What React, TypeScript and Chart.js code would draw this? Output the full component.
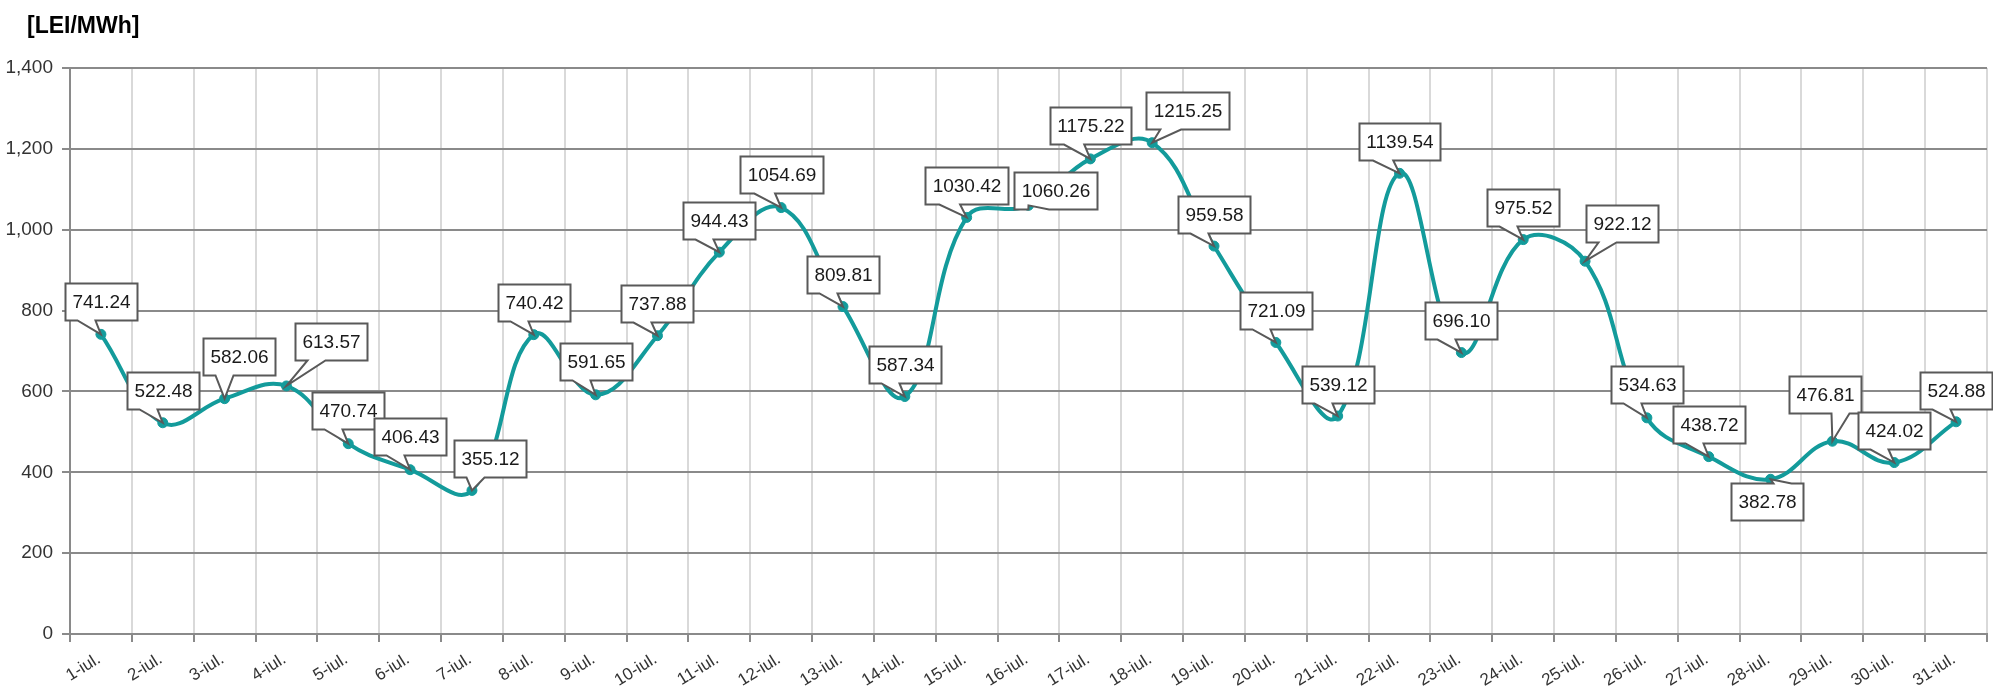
import React, { useEffect, useRef } from 'react';
import { Chart, registerables } from 'chart.js';

Chart.register(...registerables);

const categories = [
  '1-iul.', '2-iul.', '3-iul.', '4-iul.', '5-iul.', '6-iul.', '7-iul.', '8-iul.', '9-iul.', '10-iul.',
  '11-iul.', '12-iul.', '13-iul.', '14-iul.', '15-iul.', '16-iul.', '17-iul.', '18-iul.', '19-iul.', '20-iul.',
  '21-iul.', '22-iul.', '23-iul.', '24-iul.', '25-iul.', '26-iul.', '27-iul.', '28-iul.', '29-iul.', '30-iul.',
  '31-iul.',
];

const prices = [
  741.24, 522.48, 582.06, 613.57, 470.74, 406.43, 355.12, 740.42, 591.65, 737.88,
  944.43, 1054.69, 809.81, 587.34, 1030.42, 1060.26, 1175.22, 1215.25, 959.58, 721.09,
  539.12, 1139.54, 696.1, 975.52, 922.12, 534.63, 438.72, 382.78, 476.81, 424.02,
  524.88,
];

const unitTitle = '[LEI/MWh]';
const yMin = 0;
const yMax = 1400;
const yStep = 200;

// callout box centre offsets relative to each point (label placement)
const labelDx = [0, 0, 14, 45, 0, 0, 18, 0, 0, 0, 0, 0, 0, 0, 0, 27, 0, 35, 0, 0, 0, 0, 0, 0, 37, 0, 0, -4, -7, 0, 0];
const labelDy = [-33, -32, -42, -44, -33, -33, -32, -32, -33, -32, -32, -33, -32, -32, -32, -15, -33, -32, -32, -32, -32, -32, -32, -32, -38, -33, -32, 22, -47, -32, -31];

const TEAL = '#139b9b';
const DARK_GRID = '#8a8a8a';
const LIGHT_GRID = '#d9d9d9';
const FONT = '"Liberation Sans", Arial, sans-serif';

function calloutPath(ctx: CanvasRenderingContext2D, l: number, t: number, w: number, h: number, px: number, py: number) {
  const r = l + w;
  const b = t + h;
  const hc = l + w / 2;
  const vc = t + h / 2;
  const dxPos = px - hc;
  const dyPos = py - vc;
  const dq = Math.abs(dxPos * h) - Math.abs(dyPos * w);
  const x1 = l + (w * (dxPos > 0 ? 7 : 2)) / 12;
  const x2 = l + (w * (dxPos > 0 ? 10 : 5)) / 12;
  const y1 = t + (h * (dyPos > 0 ? 7 : 2)) / 12;
  const y2 = t + (h * (dyPos > 0 ? 10 : 5)) / 12;
  const xl = dq > 0 ? (dxPos > 0 ? l : px) : l;
  const yl = dq > 0 ? (dxPos > 0 ? y1 : py) : y1;
  const xt = dq > 0 ? x1 : dyPos > 0 ? x1 : px;
  const yt = dq > 0 ? t : dyPos > 0 ? t : py;
  const xr = dq > 0 ? (dxPos > 0 ? px : r) : r;
  const yr = dq > 0 ? (dxPos > 0 ? py : y1) : y1;
  const xb = dq > 0 ? x1 : dyPos > 0 ? px : x1;
  const yb = dq > 0 ? b : dyPos > 0 ? py : b;
  ctx.beginPath();
  ctx.moveTo(l, t);
  ctx.lineTo(x1, t);
  ctx.lineTo(xt, yt);
  ctx.lineTo(x2, t);
  ctx.lineTo(r, t);
  ctx.lineTo(r, y1);
  ctx.lineTo(xr, yr);
  ctx.lineTo(r, y2);
  ctx.lineTo(r, b);
  ctx.lineTo(x2, b);
  ctx.lineTo(xb, yb);
  ctx.lineTo(x1, b);
  ctx.lineTo(l, b);
  ctx.lineTo(l, y2);
  ctx.lineTo(xl, yl);
  ctx.lineTo(l, y1);
  ctx.closePath();
}

const calloutPlugin = {
  id: 'callouts',
  afterDatasetsDraw(chart: any) {
    const ctx: CanvasRenderingContext2D = chart.ctx;
    const meta = chart.getDatasetMeta(0);
    ctx.save();
    ctx.font = `19px ${FONT}`;
    meta.data.forEach((pt: any, i: number) => {
      const text = prices[i].toFixed(2);
      const tw = ctx.measureText(text).width;
      const w = Math.round(tw + 14);
      const h = 37;
      const cx = pt.x + labelDx[i];
      const cy = pt.y + labelDy[i];
      const l = Math.round(cx - w / 2) + 0.5;
      const t = Math.round(cy - h / 2) + 0.5;
      calloutPath(ctx, l, t, w, h, pt.x, pt.y);
      ctx.fillStyle = '#ffffff';
      ctx.fill();
      ctx.lineWidth = 2;
      ctx.strokeStyle = '#595959';
      ctx.lineJoin = 'miter';
      ctx.stroke();
      ctx.fillStyle = '#1a1a1a';
      ctx.textAlign = 'center';
      ctx.textBaseline = 'middle';
      ctx.fillText(text, l + w / 2, t + h / 2 + 1);
    });
    ctx.restore();
  },
};

const titlePlugin = {
  id: 'unitTitle',
  afterDraw(chart: any) {
    const ctx: CanvasRenderingContext2D = chart.ctx;
    ctx.save();
    ctx.font = `bold 23px ${FONT}`;
    ctx.fillStyle = '#000000';
    ctx.textAlign = 'left';
    ctx.textBaseline = 'alphabetic';
    ctx.fillText(unitTitle, 27, 33);
    ctx.restore();
  },
};

export default function App() {
  const canvasRef = useRef<HTMLCanvasElement | null>(null);

  useEffect(() => {
    if (!canvasRef.current) return;
    const chart = new Chart(canvasRef.current, {
      type: 'line',
      data: {
        labels: categories,
        datasets: [
          {
            data: prices,
            borderColor: TEAL,
            backgroundColor: TEAL,
            borderWidth: 4,
            tension: 0.4,
            pointRadius: 5,
            pointBackgroundColor: TEAL,
            pointBorderColor: TEAL,
            pointBorderWidth: 1,
            fill: false,
          },
        ],
      },
      options: {
        responsive: false,
        animation: false,
        devicePixelRatio: 1,
        locale: 'en-US',
        layout: { padding: { left: 0, right: 1, top: 68, bottom: 0 } },
        plugins: {
          legend: { display: false },
          tooltip: { enabled: false },
          title: { display: false },
        },
        scales: {
          x: {
            offset: true,
            grid: { offset: true, color: LIGHT_GRID, lineWidth: 2, tickColor: DARK_GRID, tickLength: 8 },
            border: { color: DARK_GRID, width: 2 },
            ticks: {
              autoSkip: false,
              minRotation: 32,
              maxRotation: 32,
              color: '#333333',
              font: { family: FONT, size: 17 },
              padding: 7,
              labelOffset: -2,
            },
            afterFit: (s: any) => {
              s.height = 57;
            },
          },
          y: {
            min: yMin,
            max: yMax,
            ticks: {
              stepSize: yStep,
              color: '#333333',
              font: { family: FONT, size: 19 },
              padding: 9,
            },
            grid: { color: DARK_GRID, lineWidth: 2, tickColor: DARK_GRID, tickLength: 8 },
            border: { color: DARK_GRID, width: 2 },
            afterFit: (s: any) => {
              s.width = 70;
            },
          },
        },
      },
      plugins: [calloutPlugin, titlePlugin],
    });
    return () => chart.destroy();
  }, []);

  return (
    <div style={{ position: 'fixed', left: 0, top: 0, width: 1993, height: 691, background: '#ffffff' }}>
      <canvas ref={canvasRef} width={1993} height={691} style={{ width: 1993, height: 691, display: 'block' }} />
    </div>
  );
}
